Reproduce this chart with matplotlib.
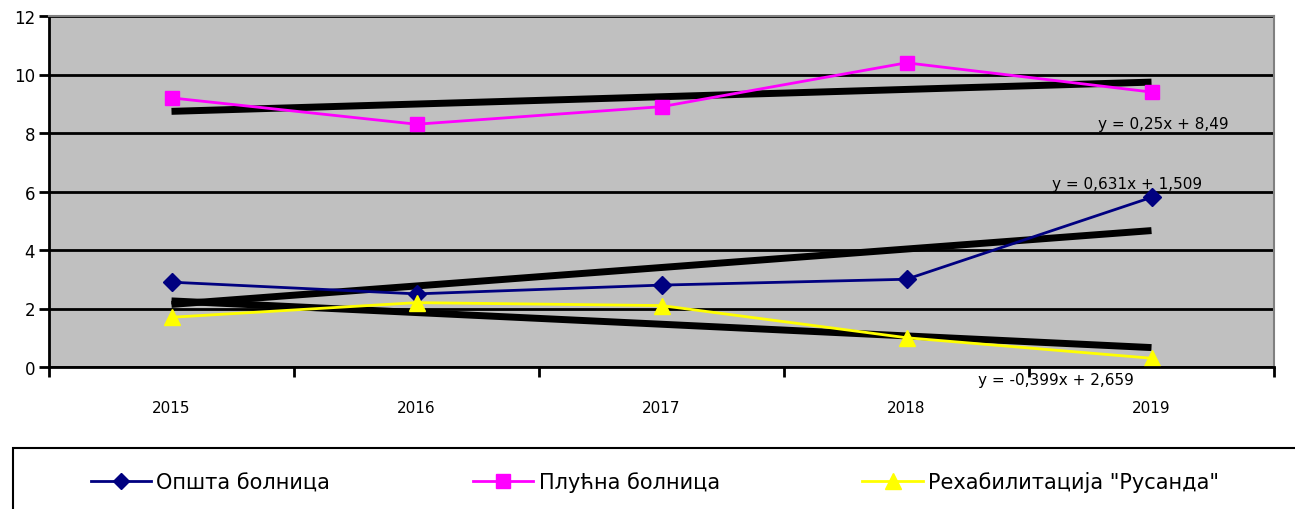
import numpy as np
import matplotlib.pyplot as plt
from matplotlib.patches import Rectangle

plt.rcParams['font.family'] = ['DejaVu Sans']

years = ['2015', '2016', '2017', '2018', '2019']
opsta = [2.9, 2.5, 2.8, 3.0, 5.8]
plucna = [9.2, 8.3, 8.9, 10.4, 9.4]
rusanda = [1.7, 2.2, 2.1, 1.0, 0.3]

# trendline coefficients as shown on the chart
trend_slope = [0.631, 0.25, -0.399]
trend_icept = [1.509, 8.49, 2.659]
trend_labels = ['y = 0,631x + 1,509', 'y = 0,25x + 8,49', 'y = -0,399x + 2,659']
trend_label_pos = [(4.9, 6.26), (5.05, 8.33), (4.61, -0.44)]

names = ['Општа болница', 'Плућна болница', 'Рехабилитација "Русанда"']
colors = ['#000080', '#FF00FF', '#FFFF00']
markers = ['D', 's', '^']
msizes = [9, 10, 12]

fig = plt.figure(figsize=(12.95, 5.1), dpi=100)
ax = fig.add_axes([49/1295, 1 - 368/510, (1274-49)/1295, (368-17)/510])
ax.set_facecolor('#C0C0C0')

x = np.arange(1, 6)
series = [opsta, plucna, rusanda]
handles = []
for i, ys in enumerate(series):
    h, = ax.plot(x, ys, color=colors[i], lw=2, marker=markers[i], ms=msizes[i],
                 mec=colors[i], label=names[i], zorder=4)
    handles.append(h)

for i in range(3):
    ax.plot(x, trend_slope[i] * x + trend_icept[i], color='black', lw=5, zorder=3,
            solid_capstyle='butt')
    ax.text(trend_label_pos[i][0], trend_label_pos[i][1], trend_labels[i],
            fontsize=11, ha='center', va='center', zorder=5, clip_on=False)

ax.set_xlim(0.5, 5.5)
ax.set_ylim(0, 12)
ax.set_yticks(np.arange(0, 13, 2))
ax.yaxis.grid(True, color='black', lw=2)
ax.set_axisbelow(True)
ax.set_xticks(np.arange(0.5, 6, 1))
ax.set_xticklabels([])
ax.set_xticks(x, minor=True)
ax.set_xticklabels(years, minor=True)
ax.tick_params(axis='x', which='major', length=7, width=2, direction='out')
ax.tick_params(axis='x', which='minor', length=0, pad=24, labelsize=11)
ax.tick_params(axis='y', length=7, width=2, labelsize=12, pad=3)
for s in ['left', 'bottom']:
    ax.spines[s].set_linewidth(2)
    ax.spines[s].set_color('black')
for s in ['top', 'right']:
    ax.spines[s].set_color('#808080')
    ax.spines[s].set_linewidth(1.5)
ax.spines['bottom'].set_zorder(6)

# legend box running off the figure edge
fig.add_artist(Rectangle((13/1295, 1 - 560/510), 1.2, 111/510, transform=fig.transFigure,
                         fill=False, ec='black', lw=1.5))
fig.legend(handles=handles, loc='center left', bbox_to_anchor=(72/1295, 1 - 483/510),
           ncol=3, frameon=False, fontsize=15, handlelength=2.9, handletextpad=0.25,
           columnspacing=6.85, markerscale=0.95)

fig.savefig('out.png', dpi=100)
